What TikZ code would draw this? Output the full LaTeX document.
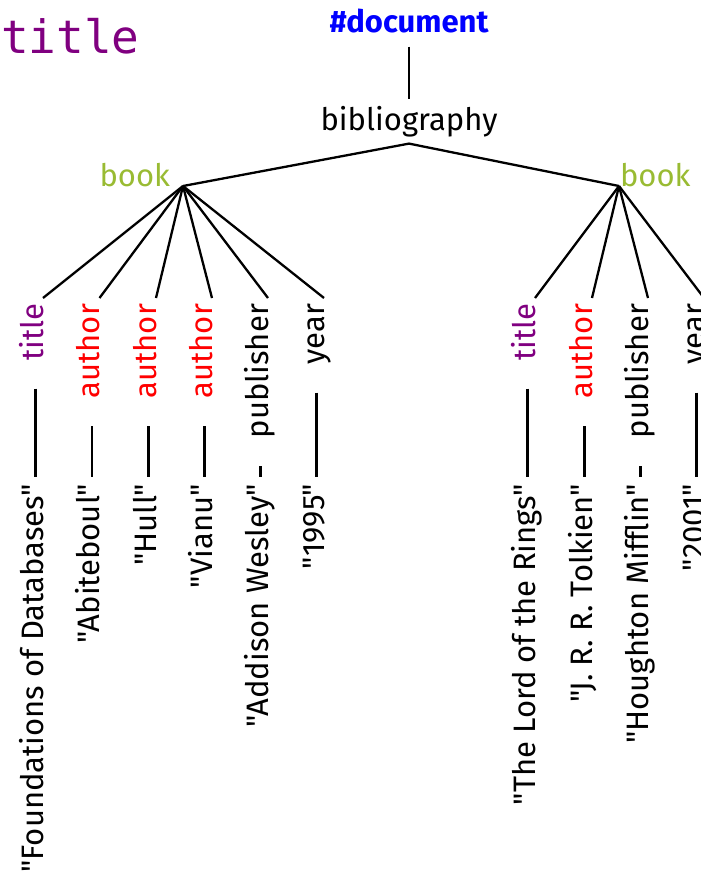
\documentclass[tikz,border=0pt]{standalone}
\usepackage{fontspec}
\setmainfont{Fira Sans}[Ligatures=TeXOff]
\newfontfamily\monofam{DejaVu Sans Mono}
\definecolor{bookgreen}{RGB}{153,187,51}
\definecolor{titlepurple}{RGB}{128,0,128}
\tikzset{
  txt/.style={font=\fontsize{31}{36}\selectfont, inner sep=0pt, outer sep=0pt},
  lbl/.style={txt, rotate=90, anchor=base east, inner xsep=6pt, inner ysep=0pt, text height=22pt, text depth=7pt},
  val/.style={txt, rotate=90, anchor=base east, inner xsep=7pt, inner ysep=0pt, text height=22pt, text depth=7pt},
  edge/.style={line width=2.3pt},
  link/.style={edge, shorten <=22pt},
}
\begin{document}
\begin{tikzpicture}[x=1pt,y=1pt]
\useasboundingbox (0,0) rectangle (701,-873);
% heading
\node[font=\monofam\fontsize{46}{50}\selectfont, text=titlepurple, anchor=base west, inner sep=0pt] (ttl) at (1,-53) {title};
% root and bibliography
\node[txt, font=\fontsize{31}{36}\selectfont\bfseries, text=blue, anchor=base, inner ysep=7pt] (doc) at (409,-32) {\#document};
\node[txt, anchor=base, inner ysep=7pt] (bib) at (409,-130) {bibliography};
\draw[edge, shorten <=7pt] (doc.south) -- (bib.north);
% books
\coordinate (b1) at (183,-186);
\coordinate (b2) at (619,-186);
\node[txt, text=bookgreen, anchor=base east] (bk1) at (170,-186) {book};
\node[txt, text=bookgreen, anchor=base west] (bk2) at (620,-186) {book};
\draw[edge] (bib.south) -- (b1);
\draw[edge] (bib.south) -- (b2);
% first book children
\node[lbl, text=titlepurple] (l1) at (43,-298) {title};
\node[lbl, text=red] (l2) at (99.5,-298) {author};
\node[lbl, text=red] (l3) at (156,-298) {author};
\node[lbl, text=red] (l4) at (212,-298) {author};
\node[lbl] (l5) at (268,-298) {publisher};
\node[lbl] (l6) at (324,-298) {year};
\node[val] (v1) at (43,-477) {"Foundations of Databases"};
\node[val] (v2) at (99.5,-477) {"Abiteboul"};
\node[val] (v3) at (156,-477) {"Hull"};
\node[val] (v4) at (212,-477) {"Vianu"};
\node[val] (v5) at (268,-477) {"Addison Wesley"};
\node[val] (v6) at (324,-477) {"1995"};
\foreach \i in {1,...,6} {
  \draw[edge] (b1) -- (l\i.base east);
  \draw[link] (l\i.west) -- (v\i.east);
}
% second book children
\node[lbl, text=titlepurple] (r1) at (535,-298) {title};
\node[lbl, text=red] (r2) at (592,-298) {author};
\node[lbl] (r3) at (648,-298) {publisher};
\node[lbl] (r4) at (704,-298) {year};
\node[val] (w1) at (535,-477) {"The Lord of the Rings"};
\node[val] (w2) at (592,-477) {"J. R. R. Tolkien"};
\node[val] (w3) at (648,-477) {"Houghton Mifflin"};
\node[val] (w4) at (704,-477) {"2001"};
\foreach \i in {1,...,4} {
  \draw[edge] (b2) -- (r\i.base east);
  \draw[link] (r\i.west) -- (w\i.east);
}
\end{tikzpicture}
\end{document}
